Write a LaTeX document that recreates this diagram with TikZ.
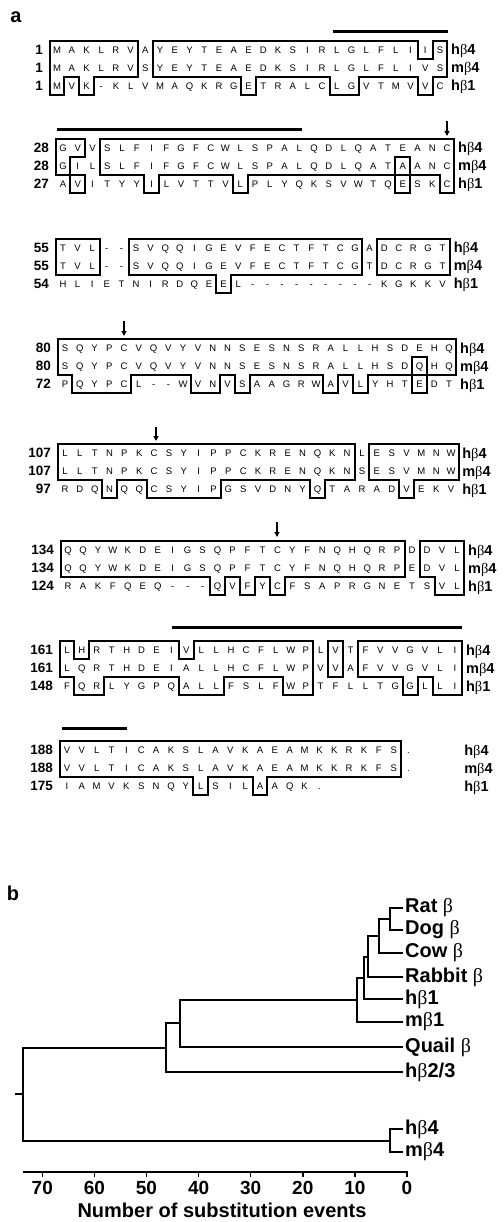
\documentclass[tikz,border=0pt]{standalone}
\usepackage{fontspec}
\setmainfont{Liberation Sans}
\newfontfamily\grk{Liberation Serif}
\usetikzlibrary{arrows.meta}
\ExplSyntaxOn
\cs_new:Npn \mychk #1#2#3#4
{
  \str_if_eq:eeTF { \str_item:Nn #1 {#4} } { - } {0}
  {
    \str_if_eq:eeTF { \str_item:Nn #1 {#4} } { . } {0}
    {
      \str_if_eq:eeTF { \str_item:Nn #1 {#4} } { } {0}
      {
        \str_if_eq:eeTF { \str_item:Nn #1 {#4} } { \str_item:Nn #2 {#4} } {1}
        {
          \str_if_eq:eeTF { \str_item:Nn #1 {#4} } { \str_item:Nn #3 {#4} } {1} {0}
        }
      }
    }
  }
}
\cs_new:Npn \myS #1#2
{
  \int_compare:nNnTF {#2} < {1} {0}
  {
    \int_case:nnF {#1}
    {
      {0} { \mychk \seqA \seqB \seqC {#2} }
      {1} { \mychk \seqB \seqA \seqC {#2} }
      {2} { \mychk \seqC \seqA \seqB {#2} }
    }
    {0}
  }
}
\cs_new:Npn \myL #1#2
{
  \int_case:nn {#1}
  {
    {0} { \str_item:Nn \seqA {#2} }
    {1} { \str_item:Nn \seqB {#2} }
    {2} { \str_item:Nn \seqC {#2} }
  }
}
\ExplSyntaxOff
\tikzset{
  seq/.style={font=\fontsize{9.5}{9.5}\selectfont, inner sep=0pt, anchor=base},
  numlab/.style={font=\fontsize{13.5}{13.5}\selectfont\bfseries, inner sep=0pt, anchor=base east},
  rowlab/.style={font=\fontsize{14.5}{14.5}\selectfont\bfseries, inner sep=0pt, anchor=base west},
  boxline/.style={line width=2pt, line cap=rect},
  tmbar/.style={line width=3pt},
  cysarrow/.style={line width=1.3pt, -{Triangle[length=5pt,width=5pt]}},
  panel/.style={font=\fontsize{20}{20}\selectfont\bfseries, inner sep=0pt},
  tree/.style={line width=2pt},
  leaf/.style={font=\fontsize{20}{20}\selectfont\bfseries, anchor=west, inner sep=2pt},
  ticklab/.style={font=\fontsize{19}{19}\selectfont\bfseries, inner sep=0pt},
  axtitle/.style={font=\fontsize{20}{20}\selectfont\bfseries, inner sep=0pt},
}
\newcommand\setblock[4]{\def\blk{#1}\def\xo{#2}\def\dx{#3}\def\yo{#4}}
\newcommand\seqblock[6]{%
  \def\seqA{#1}\def\seqB{#2}\def\seqC{#3}%
  \foreach \r in {0,1,2}{%
    \foreach \c in {1,...,27}{%
      \node[seq] (s\blk-\r-\c) at ({\xo+(\c-1)*\dx},{\yo+\r*18+3.4}) {\myL{\r}{\c}};
    }%
  }%
  \foreach \r in {0,1,2}{%
    \foreach \c in {1,...,28}{%
      \edef\sa{\myS{\r}{\c}}\edef\sb{\myS{\r}{\c-1}}%
      \ifx\sa\sb\else
        \draw[boxline] ({\xo+(\c-1.5)*\dx},{\yo+\r*18-9}) -- ({\xo+(\c-1.5)*\dx},{\yo+\r*18+9});
      \fi
    }%
  }%
  \foreach \r in {0,1,2,3}{%
    \foreach \c in {1,...,27}{%
      \edef\sa{\myS{\r}{\c}}\edef\sb{\myS{\r-1}{\c}}%
      \ifx\sa\sb\else
        \draw[boxline] ({\xo+(\c-1.5)*\dx},{\yo+\r*18-9}) -- ({\xo+(\c-0.5)*\dx},{\yo+\r*18-9});
      \fi
    }%
  }%
  \node[numlab] (n\blk-0) at ({\xo-14},{\yo+4.8}) {#4};
  \node[numlab] (n\blk-1) at ({\xo-14},{\yo+18+4.8}) {#5};
  \node[numlab] (n\blk-2) at ({\xo-14},{\yo+36+4.8}) {#6};
  \node[rowlab] (l\blk-0) at ({\xo+26*\dx+11},{\yo+5}) {h{\grk\mdseries β}4};
  \node[rowlab] (l\blk-1) at ({\xo+26*\dx+11},{\yo+18+5}) {m{\grk\mdseries β}4};
  \node[rowlab] (l\blk-2) at ({\xo+26*\dx+11},{\yo+36+5}) {h{\grk\mdseries β}1};
}
\begin{document}
\begin{tikzpicture}[x=1pt,y=-1pt]
\useasboundingbox (0,0) rectangle (503,1222);
\fill[white] (0,0) rectangle (503,1222);
\node[panel] (pa) at (16,17) {a};
% block 1
\setblock{1}{57}{14.73}{50}
\seqblock{MAKLRVAYEYTEAEDKSIRLGLFLIIS}{MAKLRVSYEYTEAEDKSIRLGLFLIVS}{MVK-KLVMAQKRGETRALCLGVTMVVC}{1}{1}{1}
\draw[tmbar] (333,32) -- (448,32);
% block 2
\setblock{2}{63}{14.77}{148}
\seqblock{GVVSLFIFGFCWLSPALQDLQATEANC}{GILSLFIFGFCWLSPALQDLQATAANC}{AVITYYILVTTVLPLYQKSVWTQESKC}{28}{28}{27}
\draw[tmbar] (57,130) -- (302,130);
\draw[cysarrow] (447,121) -- (447,136);
% block 3
\setblock{3}{63}{14.6}{248}
\seqblock{TVL--SVQQIGEVFECTFTCGADCRGT}{TVL--SVQQIGEVFECTFTCGTDCRGT}{HLIETNIRDQEEL---------KGKKV}{55}{55}{54}
% block 4
\setblock{4}{65}{14.77}{348}
\seqblock{SQYPCVQVYVNNSESNSRALLHSDEHQ}{SQYPCVQVYVNNSESNSRALLHSDQHQ}{PQYPCL--WVNVSAAGRWAVLYHTEDT}{80}{80}{72}
\draw[cysarrow] (124,321) -- (124,336);
% block 5
\setblock{5}{65}{14.85}{453}
\seqblock{LLTNPKCSYIPPCKRENQKNLESVMNW}{LLTNPKCSYIPPCKRENQKNSESVMNW}{RDQNQQCSYIPGSVDNYQTARADVEKV}{107}{107}{97}
\draw[cysarrow] (156,427) -- (156,441);
% block 6
\setblock{6}{68}{14.96}{550}
\seqblock{QQYWKDEIGSQPFTCYFNQHQRPDDVL}{QQYWKDEIGSQPFTCYFNQHQRPEDVL}{RAKFQEQ---QVFYCFSAPRGNETSVL}{134}{134}{124}
\draw[cysarrow] (277,522) -- (277,537);
% block 7
\setblock{7}{67}{14.92}{650}
\seqblock{LHRTHDEIVLLHCFLWPLVTFVVGVLI}{LQRTHDEIALLHCFLWPVVAFVVGVLI}{FQRLYGPQALLFSLFWPTFLLTGGLLI}{161}{161}{148}
\draw[tmbar] (172,627) -- (462,627);
% block 8
\setblock{8}{67}{14.85}{750}
\seqblock{VVLTICAKSLAVKAEAMKKRKFS.}{VVLTICAKSLAVKAEAMKKRKFS.}{IAMVKSNQYLSILAAQK.}{188}{188}{175}
\draw[tmbar] (62,728) -- (127,728);
% panel b
\node[panel] (pb) at (13,893) {b};
\node[leaf] (rat) at (403,908) {Rat {\grk\mdseries β}};
\node[leaf] (dog) at (403,930) {Dog {\grk\mdseries β}};
\node[leaf] (cow) at (403,953) {Cow {\grk\mdseries β}};
\node[leaf] (rabbit) at (403,977) {Rabbit {\grk\mdseries β}};
\node[leaf] (hb1) at (403,999) {h{\grk\mdseries β}1};
\node[leaf] (mb1) at (403,1022) {m{\grk\mdseries β}1};
\node[leaf] (quail) at (403,1047) {Quail {\grk\mdseries β}};
\node[leaf] (hb23) at (403,1072) {h{\grk\mdseries β}2/3};
\node[leaf] (hb4) at (403,1129) {h{\grk\mdseries β}4};
\node[leaf] (mb4) at (403,1152) {m{\grk\mdseries β}4};
\coordinate (E) at (390,919);
\coordinate (F) at (379,936);
\coordinate (G) at (368,956.5);
\coordinate (H) at (364,978);
\coordinate (C) at (357,1000);
\coordinate (B) at (180,1023);
\coordinate (A) at (166,1047.5);
\coordinate (Q4) at (390,1140.5);
\coordinate (R) at (23,1094);
\coordinate (Rt) at (15,1094);
\draw[tree] (rat.west) -| (E) |- (dog.west);
\draw[tree] (E) -| (F) |- (cow.west);
\draw[tree] (F) -| (G) |- (rabbit.west);
\draw[tree] (G) -| (H) |- (hb1.west);
\draw[tree] (H) -| (C) |- (mb1.west);
\draw[tree] (C) -| (B) |- (quail.west);
\draw[tree] (B) -| (A) |- (hb23.west);
\draw[tree] (A) -| (R) |- (Q4);
\draw[tree] (hb4.west) -| (Q4) |- (mb4.west);
\draw[tree] (Rt) -- (R);
% axis
\coordinate (ax0) at (23,1172);
\coordinate (ax1) at (408,1172);
\draw[tree] (ax0) -- (ax1);
\foreach \v in {0,10,...,70}{
  \draw[line width=1.5pt] ({407-5.21*\v},1172) -- ({407-5.21*\v},1177);
  \node[ticklab] (t\v) at ({407-5.21*\v},1188) {\v};
}
\node[axtitle] (xlab) at (222,1210) {Number of substitution events};
\end{tikzpicture}
\end{document}
